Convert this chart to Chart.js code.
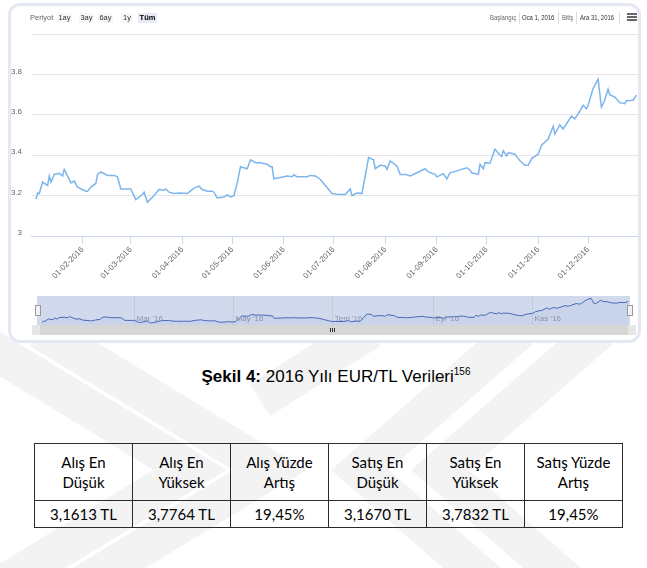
<!DOCTYPE html>
<html>
<head>
<meta charset="utf-8">
<script src="https://cdn.jsdelivr.net/npm/chart.js@4.4.0/dist/chart.umd.min.js"></script>
<style>
  html, body { margin: 0; padding: 0; background: #fff; }
  body { width: 647px; height: 568px; position: relative; overflow: hidden; font-family: "Liberation Sans", Arial, sans-serif; }
  #wm { position: absolute; left: 0; top: 0; z-index: 0; }
  #frame { position: absolute; left: 8px; top: 3px; width: 627px; height: 334px; border: 3px solid #e4e8f3; border-radius: 12px; background: #fff; z-index: 1; }
  .abs { position: absolute; z-index: 3; }
  .tb { font-size: 7.5px; color: #333; line-height: 10px; white-space: nowrap; }
  .nr { font-size: 7px; transform: scaleX(0.85); transform-origin: 0 50%; }
  .btn { background: #f7f7f7; text-align: center; height: 10px; }
  .btn.sel { background: #e6ebf5; font-weight: bold; color: #000; }
  .sep { width: 1px; height: 12px; background: #ddd; }
  #mainWrap { position: absolute; left: 0; top: 0; width: 647px; height: 295px; z-index: 2; }
  #navWrap { position: absolute; left: 37px; top: 296px; width: 593px; height: 29px; z-index: 2; }
  #scroll { position: absolute; left: 32px; top: 325px; width: 604px; height: 10px; background: #d6d6d6; z-index: 2; }
  .arrow { position: absolute; top: 0; width: 8px; height: 10px; background: #e6e6e6; }
  .handle { position: absolute; width: 4px; height: 9px; background: #f2f2f2; border: 1px solid #999; z-index: 4; }
  #caption { position: absolute; left: 0; width: 672px; top: 366px; text-align: center; font-size: 17px; color: #000; z-index: 3; }
  #caption sup { font-size: 10px; }
  table { position: absolute; left: 34px; top: 443px; width: 589px; border-collapse: collapse; z-index: 3; font-family: Lato, "Open Sans", sans-serif; font-size: 15px; color: #000; }
  td { border: 1.5px solid #2b2b2b; text-align: center; padding: 0; width: 98px; }
  tr.h td { height: 56px; line-height: 20px; }
  tr.d td { height: 26px; }
</style>
</head>
<body>
<svg id="wm" width="647" height="568">
  <g fill="none" stroke="#f3f3f3" stroke-width="38" stroke-linecap="butt">
    <polyline points="-40,330 190,470 -40,610"/>
    <polyline points="40,330 270,470 40,610"/>
    <polyline points="370,330 260,400"/>
    <polyline points="520,330 360,470 520,610"/>
    <polyline points="600,330 440,470 600,610"/>
  </g>
</svg>

<div id="frame"></div>

<!-- range selector toolbar -->
<div class="abs tb" style="left:30px;top:13px;color:#666;">Periyot</div>
<div class="abs tb btn" style="left:57px;top:13px;width:15px;">1ay</div>
<div class="abs tb btn" style="left:79px;top:13px;width:15px;">3ay</div>
<div class="abs tb btn" style="left:98px;top:13px;width:15px;">6ay</div>
<div class="abs tb btn" style="left:121px;top:13px;width:12px;">1y</div>
<div class="abs tb btn sel" style="left:138px;top:13px;width:19px;">Tüm</div>

<div class="abs tb nr" style="left:490px;top:13px;color:#666;">Başlangıç</div>
<div class="abs sep" style="left:519px;top:12px;"></div>
<div class="abs tb nr" style="left:522px;top:13px;">Oca 1, 2016</div>
<div class="abs sep" style="left:558px;top:12px;"></div>
<div class="abs tb nr" style="left:562px;top:13px;color:#666;">Bitiş</div>
<div class="abs sep" style="left:576px;top:12px;"></div>
<div class="abs tb nr" style="left:580px;top:13px;">Ara 31, 2016</div>
<div class="abs sep" style="left:619px;top:12px;"></div>
<div class="abs" style="left:627px;top:13px;width:10px;height:2px;background:#666;"></div>
<div class="abs" style="left:627px;top:16px;width:10px;height:2px;background:#666;"></div>
<div class="abs" style="left:627px;top:19px;width:10px;height:2px;background:#666;"></div>

<div id="mainWrap"><canvas id="main" width="647" height="295"></canvas></div>
<div id="navWrap"><canvas id="nav" width="593" height="29"></canvas></div>
<div class="handle" style="left:35px;top:305px;"></div>
<div class="handle" style="left:627px;top:305px;"></div>
<div id="scroll">
  <div class="arrow" style="left:0;"></div>
  <div class="arrow" style="right:0;"></div>
  <div class="abs" style="left:298px;top:3px;width:1px;height:4px;background:#333;"></div>
  <div class="abs" style="left:300px;top:3px;width:1px;height:4px;background:#333;"></div>
  <div class="abs" style="left:302px;top:3px;width:1px;height:4px;background:#333;"></div>
</div>

<div id="caption"><b>Şekil 4:</b> 2016 Yılı EUR/TL Verileri<sup>156</sup></div>

<table id="tbl"></table>

<script>
const year = 2016;

// EUR/TL, 2016
const dates = ['01-04', '01-05', '01-06', '01-08', '01-11', '01-12', '01-13', '01-15', '01-18', '01-20',
  '01-21', '01-25', '01-27', '01-29', '02-03', '02-04', '02-06', '02-09', '02-10', '02-12',
  '02-16', '02-20', '02-22', '02-24', '03-01', '03-04', '03-08', '03-09', '03-11', '03-15',
  '03-18', '03-21', '03-22', '03-24', '03-27', '03-31', '04-04', '04-05', '04-08', '04-11',
  '04-13', '04-16', '04-19', '04-20', '04-22', '04-26', '04-28', '04-30', '05-02', '05-04',
  '05-06', '05-10', '05-12', '05-15', '05-18', '05-22', '05-24', '05-25', '05-26', '05-30',
  '06-03', '06-06', '06-07', '06-09', '06-15', '06-17', '06-20', '06-23', '06-26', '06-29',
  '06-30', '07-03', '07-08', '07-11', '07-12', '07-15', '07-18', '07-22', '07-25', '07-26',
  '07-29', '08-01', '08-02', '08-04', '08-08', '08-10', '08-13', '08-16', '08-21', '08-25',
  '08-27', '08-31', '09-01', '09-05', '09-07', '09-09', '09-14', '09-19', '09-21', '09-22',
  '09-26', '09-27', '09-29', '09-30', '10-03', '10-06', '10-08', '10-10', '10-11', '10-13',
  '10-14', '10-18', '10-21', '10-24', '10-26', '10-28', '11-01', '11-03', '11-07', '11-10',
  '11-11', '11-14', '11-16', '11-21', '11-23', '11-25', '11-28', '11-30', '12-01', '12-04',
  '12-07', '12-09', '12-11', '12-13', '12-14', '12-17', '12-20', '12-23', '12-24', '12-28',
  '12-30'];
const eurTl = [3.183, 3.213, 3.21, 3.267, 3.25, 3.297, 3.267, 3.305, 3.31, 3.297,
  3.33, 3.263, 3.272, 3.242, 3.222, 3.222, 3.242, 3.26, 3.305, 3.317,
  3.30, 3.30, 3.293, 3.233, 3.233, 3.18, 3.205, 3.217, 3.167, 3.20,
  3.23, 3.227, 3.233, 3.217, 3.21, 3.213, 3.21, 3.217, 3.237, 3.247,
  3.23, 3.222, 3.222, 3.217, 3.188, 3.193, 3.203, 3.193, 3.20, 3.263,
  3.343, 3.333, 3.377, 3.363, 3.363, 3.355, 3.343, 3.343, 3.283, 3.29,
  3.297, 3.293, 3.303, 3.293, 3.293, 3.30, 3.297, 3.28, 3.25, 3.22,
  3.21, 3.207, 3.205, 3.233, 3.20, 3.213, 3.21, 3.388, 3.377, 3.333,
  3.35, 3.347, 3.33, 3.372, 3.347, 3.305, 3.305, 3.297, 3.317, 3.333,
  3.317, 3.305, 3.293, 3.308, 3.283, 3.313, 3.325, 3.338, 3.327, 3.313,
  3.305, 3.355, 3.333, 3.363, 3.36, 3.43, 3.41, 3.393, 3.422, 3.397,
  3.413, 3.405, 3.372, 3.35, 3.35, 3.383, 3.405, 3.45, 3.48, 3.543,
  3.505, 3.55, 3.53, 3.593, 3.58, 3.605, 3.647, 3.63, 3.647, 3.73,
  3.776, 3.638, 3.672, 3.727, 3.70, 3.688, 3.66, 3.655, 3.67, 3.672,
  3.697];

const xTickDates = ['02-01', '03-01', '04-01', '05-01', '06-01', '07-01', '08-01', '09-01', '10-01', '11-01', '12-01'];
const xTickLabels = ['01-02-2016', '01-03-2016', '01-04-2016', '01-05-2016', '01-06-2016', '01-07-2016',
  '01-08-2016', '01-09-2016', '01-10-2016', '01-11-2016', '01-12-2016'];
const yTicks = [3, 3.2, 3.4, 3.6, 3.8, 4];
const yTickLabels = ['3', '3.2', '3.4', '3.6', '3.8', ''];

const navTickDates = ['03-01', '05-01', '07-01', '09-01', '11-01'];
const navTickLabels = ["Mar '16", "May '16", "Tem '16", "Eyl '16", "Kas '16"];

const tableHead = ['Alış En<br>Düşük', 'Alış En<br>Yüksek', 'Alış Yüzde<br>Artış', 'Satış En<br>Düşük', 'Satış En<br>Yüksek', 'Satış Yüzde<br>Artış'];
const tableRow = ['3,1613 TL', '3,7764 TL', '19,45%', '3,1670 TL', '3,7832 TL', '19,45%'];

function dayOf(md) {
    const [m, d] = md.split('-').map(Number);
    return (Date.UTC(year, m - 1, d) - Date.UTC(year, 0, 1)) / 86400000;
}

const points = dates.map((d, i) => ({ x: dayOf(d), y: eurTl[i] }));
const xTickDays = xTickDates.map(dayOf);
const navTickDays = navTickDates.map(dayOf);

// main chart
new Chart(document.getElementById('main').getContext('2d'), {
    type: 'line',
    data: {
        datasets: [{
            data: points,
            borderColor: '#7cb5ec',
            borderWidth: 1.5,
            pointRadius: 0,
            tension: 0,
            fill: false
        }]
    },
    options: {
        responsive: false,
        animation: false,
        layout: { padding: { top: 34, right: 9, left: 0, bottom: 0 } },
        plugins: { legend: { display: false }, tooltip: { enabled: false } },
        scales: {
            x: {
                type: 'linear',
                min: 0,
                max: 365,
                afterBuildTicks: axis => { axis.ticks = xTickDays.map(v => ({ value: v })); },
                afterFit: s => { s.height = 59; },
                grid: { drawOnChartArea: false, drawTicks: true, tickLength: 8, tickColor: '#ccd6eb' },
                border: { color: '#ccd6eb' },
                ticks: {
                    autoSkip: false,
                    minRotation: 45,
                    maxRotation: 45,
                    padding: 1,
                    color: '#666',
                    font: { family: 'Liberation Sans', size: 8 },
                    callback: (v, i) => xTickLabels[i]
                }
            },
            y: {
                min: 3,
                max: 4,
                afterBuildTicks: axis => { axis.ticks = yTicks.map(v => ({ value: v })); },
                afterFit: s => { s.width = 31; },
                grid: { color: '#e6e6e6', drawTicks: false },
                border: { display: false },
                ticks: {
                    padding: 9,
                    labelOffset: -3,
                    color: '#666',
                    font: { family: 'Liberation Sans', size: 8 },
                    callback: (v, i) => yTickLabels[i]
                }
            }
        }
    }
});

// navigator
new Chart(document.getElementById('nav').getContext('2d'), {
    type: 'line',
    data: {
        datasets: [{
            data: points,
            borderColor: '#4668b8',
            borderWidth: 1,
            backgroundColor: 'rgba(51,92,173,0.05)',
            pointRadius: 0,
            tension: 0,
            fill: 'start'
        }]
    },
    options: {
        responsive: false,
        animation: false,
        layout: { padding: 0 },
        plugins: { legend: { display: false }, tooltip: { enabled: false } },
        scales: {
            x: {
                type: 'linear',
                min: 0,
                max: 365,
                afterBuildTicks: axis => { axis.ticks = navTickDays.map(v => ({ value: v })); },
                afterFit: s => { s.height = 0; },
                grid: { color: 'rgba(0,0,0,0.07)', drawTicks: false },
                border: { display: false },
                ticks: { display: false }
            },
            y: { display: false, min: 3.12, max: 3.83 }
        }
    },
    plugins: [{
        id: 'navMask',
        beforeDraw(chart) {
            const { ctx, chartArea } = chart;
            ctx.save();
            ctx.fillStyle = 'rgba(102,133,194,0.3)';
            ctx.fillRect(chartArea.left, chartArea.top, chartArea.right - chartArea.left, chartArea.bottom - chartArea.top);
            ctx.restore();
        },
        afterDraw(chart) {
            const { ctx, chartArea } = chart;
            const xs = chart.scales.x;
            ctx.save();
            ctx.fillStyle = '#8a93a8';
            ctx.font = '8px "Liberation Sans"';
            ctx.textBaseline = 'alphabetic';
            navTickDays.forEach((v, i) => {
                ctx.fillText(navTickLabels[i], xs.getPixelForValue(v) + 2, chartArea.bottom - 4);
            });
            ctx.restore();
        }
    }]
});

// table under the caption
let html = '<tr class="h">';
tableHead.forEach(h => { html += `<td>${h}</td>`; });
html += '</tr><tr class="d">';
tableRow.forEach(c => { html += `<td>${c}</td>`; });
html += '</tr>';
document.getElementById('tbl').innerHTML = html;
</script>
</body>
</html>
